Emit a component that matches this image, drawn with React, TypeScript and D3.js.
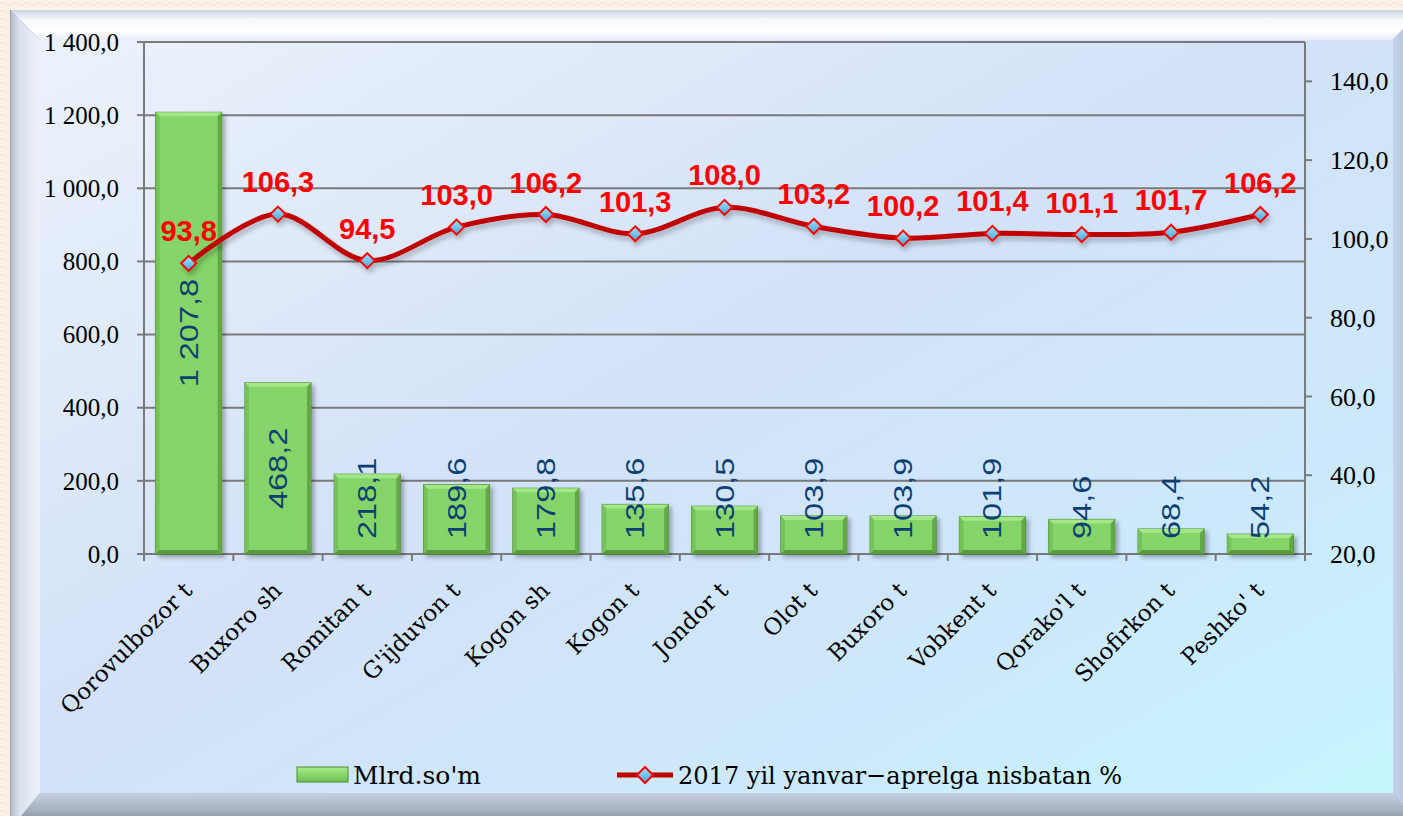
import React from "react";
import * as d3 from "d3";

const categories = [
  "Qorovulbozor t", "Buxoro sh", "Romitan t", "G'ijduvon t", "Kogon sh", "Kogon t",
  "Jondor t", "Olot t", "Buxoro t", "Vobkent t", "Qorako'l t", "Shofirkon t", "Peshko' t",
];
const barValues = [1207.8, 468.2, 218.1, 189.6, 179.8, 135.6, 130.5, 103.9, 103.9, 101.9, 94.6, 68.4, 54.2];
const lineValues = [93.8, 106.3, 94.5, 103.0, 106.2, 101.3, 108.0, 103.2, 100.2, 101.4, 101.1, 101.7, 106.2];
const leftTicks = [0, 200, 400, 600, 800, 1000, 1200, 1400];
const rightTicks = [20, 40, 60, 80, 100, 120, 140];
const barSeriesName = "Mlrd.so'm";
const lineSeriesName = "2017 yil yanvar\u2212aprelga nisbatan %";

const W = 1403;
const H = 816;
const PL = 144, PR = 1305, PT = 42, PB = 554;

const fmt = (v: number) => {
  const s = v.toFixed(1).replace(".", ",");
  const [i, dec] = s.split(",");
  const ip = i.replace(/\B(?=(\d{3})+(?!\d))/g, " ");
  return ip + "," + dec;
};

export default function App() {
  const x = d3.scaleBand<string>().domain(categories).range([PL, PR]).padding(0);
  const yL = d3.scaleLinear().domain([0, 1400]).range([PB, PT]);
  const yR = d3.scaleLinear().domain([20, 150]).range([PB, PT]);
  const bw = x.bandwidth() * 0.74;
  const cx = (c: string) => (x(c) as number) + x.bandwidth() / 2;

  const line = d3
    .line<number>()
    .x((_, i) => cx(categories[i]))
    .y((d) => yR(d))
    .curve(d3.curveCatmullRom.alpha(0.5));

  const serif = "'Liberation Serif', 'Times New Roman', serif";
  const wideSerif = "'DejaVu Serif', serif";
  const sans = "'Liberation Sans', Arial, sans-serif";
  const gridColor = "#7a7a7a";

  const fx = 10, fy = 10, fr = 1420, fb = 830; // outer frame
  const ix = 40, iy = 40, ir = 1393, ib = 793; // inner face

  return (
    <svg width={W} height={H} style={{ position: "absolute", left: 0, top: 0 }} xmlns="http://www.w3.org/2000/svg">
      <defs>
        <pattern id="wave" width="12" height="8" patternUnits="userSpaceOnUse">
          <rect width="12" height="8" fill="#fdf1e8" />
          <path d="M0 4 Q3 1 6 4 T12 4" stroke="#f4dccb" strokeWidth="1" fill="none" />
        </pattern>
        <linearGradient id="face" x1="0" y1="0" x2="1" y2="1">
          <stop offset="0" stopColor="#ecf2fb" />
          <stop offset="0.45" stopColor="#d3e2f8" />
          <stop offset="0.75" stopColor="#cde8fc" />
          <stop offset="1" stopColor="#c6f6fe" />
        </linearGradient>
        <linearGradient id="bevTop" x1="0" y1="0" x2="0" y2="1">
          <stop offset="0" stopColor="#c9d3e3" />
          <stop offset="0.3" stopColor="#f4f7fc" />
          <stop offset="0.7" stopColor="#ffffff" />
          <stop offset="1" stopColor="#e6edf8" />
        </linearGradient>
        <linearGradient id="bevLeft" x1="0" y1="0" x2="1" y2="0">
          <stop offset="0" stopColor="#aeb8c8" />
          <stop offset="0.3" stopColor="#d9e0ec" />
          <stop offset="1" stopColor="#eef2fa" />
        </linearGradient>
        <linearGradient id="bevBottom" x1="0" y1="0" x2="0" y2="1">
          <stop offset="0" stopColor="#c5d0e0" />
          <stop offset="0.5" stopColor="#a3adbd" />
          <stop offset="1" stopColor="#6d7585" />
        </linearGradient>
        <linearGradient id="bevRight" x1="0" y1="0" x2="1" y2="0">
          <stop offset="0" stopColor="#c3d3ea" />
          <stop offset="1" stopColor="#a8b8d0" />
        </linearGradient>
        <linearGradient id="barFace" x1="0" y1="0" x2="1" y2="0">
          <stop offset="0" stopColor="#86d56a" />
          <stop offset="1" stopColor="#84d468" />
        </linearGradient>
        <linearGradient id="diamond" x1="0" y1="0" x2="0" y2="1">
          <stop offset="0" stopColor="#a6e2fb" />
          <stop offset="1" stopColor="#3ea6e2" />
        </linearGradient>
        <linearGradient id="legBar" x1="0" y1="0" x2="0" y2="1">
          <stop offset="0" stopColor="#a6ee86" />
          <stop offset="1" stopColor="#6fbf52" />
        </linearGradient>
        <filter id="shadow" x="-20%" y="-20%" width="140%" height="140%">
          <feDropShadow dx="3" dy="3" stdDeviation="2" floodColor="#000" floodOpacity="0.3" />
        </filter>
        <filter id="lshadow" x="-5%" y="-20%" width="110%" height="150%">
          <feDropShadow dx="2" dy="4" stdDeviation="2.5" floodColor="#000" floodOpacity="0.25" />
        </filter>
      </defs>

      {/* page background */}
      <rect x={0} y={0} width={W} height={H} fill="url(#wave)" />

      {/* bevelled frame */}
      <rect x={fx} y={fy} width={fr - fx} height={fb - fy} fill="#8a93a3" />
      <polygon points={`${fx},${fy} ${fr},${fy} ${ir},${iy} ${ix},${iy}`} fill="url(#bevTop)" />
      <polygon points={`${fx},${fy} ${ix},${iy} ${ix},${ib} ${fx},${fb}`} fill="url(#bevLeft)" />
      <polygon points={`${ir},${iy} ${fr},${fy} ${fr},${fb} ${ir},${ib}`} fill="url(#bevRight)" />
      <polygon points={`${ix},${ib} ${ir},${ib} ${fr},${fb} ${fx},${fb}`} fill="url(#bevBottom)" />
      <rect x={ix} y={iy} width={ir - ix} height={ib - iy} fill="url(#face)" />
      <line x1={fx + 0.5} y1={fy} x2={fx + 0.5} y2={fb} stroke="#9aa3b3" strokeWidth={1} />

      {/* gridlines */}
      {leftTicks.map((t) => (
        <line key={"g" + t} x1={PL} x2={PR} y1={yL(t)} y2={yL(t)} stroke={gridColor} strokeWidth={2} />
      ))}
      {/* left axis */}
      <line x1={PL} x2={PL} y1={PT} y2={PB + 7} stroke={gridColor} strokeWidth={2} />
      {leftTicks.map((t) => (
        <g key={"lt" + t}>
          <line x1={PL - 7} x2={PL} y1={yL(t)} y2={yL(t)} stroke={gridColor} strokeWidth={2} />
          <text x={119} y={yL(t)} dy="0.35em" textAnchor="end" fontFamily={serif} fontSize={25} fill="#000">
            {fmt(t)}
          </text>
        </g>
      ))}
      {/* right axis */}
      <line x1={PR} x2={PR} y1={PT} y2={PB + 7} stroke={gridColor} strokeWidth={2} />
      {rightTicks.map((t) => (
        <g key={"rt" + t}>
          <line x1={PR} x2={PR + 7} y1={yR(t)} y2={yR(t)} stroke={gridColor} strokeWidth={2} />
          <text x={1330} y={yR(t)} dy="0.35em" textAnchor="start" fontFamily={serif} fontSize={26} fill="#000">
            {fmt(t)}
          </text>
        </g>
      ))}
      {/* category ticks */}
      {categories.map((c) => (
        <line key={"ct" + c} x1={x(c) as number} x2={x(c) as number} y1={PB} y2={PB + 7} stroke={gridColor} strokeWidth={2} />
      ))}

      {/* bars */}
      <g filter="url(#shadow)">
        {categories.map((c, i) => {
          const bx = cx(c) - bw / 2;
          const by = yL(barValues[i]);
          const bh = PB - by;
          const e = 4;
          return (
            <g key={"b" + c}>
              <rect x={bx} y={by} width={bw} height={bh} fill="url(#barFace)" stroke="#4e8a35" strokeWidth={1} />
              <polygon points={`${bx},${by} ${bx + bw},${by} ${bx + bw - e},${by + e} ${bx + e},${by + e}`} fill="#a2e886" />
              <polygon points={`${bx},${by} ${bx + e},${by + e} ${bx + e},${by + bh - e} ${bx},${by + bh}`} fill="#74c25a" />
              <polygon points={`${bx + bw},${by} ${bx + bw - e},${by + e} ${bx + bw - e},${by + bh - e} ${bx + bw},${by + bh}`} fill="#62a848" />
              <polygon points={`${bx},${by + bh} ${bx + e},${by + bh - e} ${bx + bw - e},${by + bh - e} ${bx + bw},${by + bh}`} fill="#5a9a40" />
            </g>
          );
        })}
      </g>
      {/* bar labels */}
      {categories.map((c, i) => {
        const by = yL(barValues[i]);
        const label = fmt(barValues[i]);
        const len = (label.replace(/[ ,]/g, "").length * 0.556 + (label.split(/[ ,]/).length - 1) * 0.278) * 26 * 1.25;
        const center = Math.min((by + PB) / 2, 539 - len / 2);
        return (
          <text
            key={"bl" + c}
            transform={`translate(${cx(c) + 9},${center}) rotate(-90) scale(1.25,1)`}
            textAnchor="middle"
            fontFamily={sans}
            fontSize={26}
            fill="#0d3f73"
          >
            {label}
          </text>
        );
      })}

      {/* line */}
      <g filter="url(#lshadow)">
        <path d={line(lineValues) || ""} fill="none" stroke="#c00000" strokeWidth={5} strokeLinejoin="round" />
        {lineValues.map((v, i) => {
          const px = cx(categories[i]);
          const py = yR(v);
          const s = 7.5;
          return (
            <polygon
              key={"m" + i}
              points={`${px},${py - s} ${px + s},${py} ${px},${py + s} ${px - s},${py}`}
              fill="url(#diamond)"
              stroke="#ff0000"
              strokeWidth={2}
            />
          );
        })}
      </g>
      {lineValues.map((v, i) => (
        <text
          key={"ll" + i}
          x={cx(categories[i])}
          y={yR(v) - 22}
          textAnchor="middle"
          fontFamily={sans}
          fontWeight="bold"
          fontSize={29}
          fill="#ff0000"
        >
          {fmt(v)}
        </text>
      ))}

      {/* x labels */}
      {categories.map((c) => (
        <text
          key={"xl" + c}
          transform={`translate(${cx(c) + 5},${592}) rotate(-45)`}
          textAnchor="end"
          fontFamily={wideSerif}
          fontSize={23}
          fill="#000"
        >
          {c}
        </text>
      ))}

      {/* legend */}
      <g>
        <rect x={297} y={767} width={51} height={15} fill="url(#legBar)" stroke="#4e8a35" strokeWidth={1} />
        <text x={353} y={784} fontFamily={wideSerif} fontSize={25} fill="#000">{barSeriesName}</text>
        <line x1={617} x2={673} y1={775} y2={775} stroke="#c00000" strokeWidth={5} />
        <polygon points={`645,767 653,775 645,783 637,775`} fill="url(#diamond)" stroke="#ff0000" strokeWidth={2} />
        <text x={678} y={784} fontFamily={wideSerif} fontSize={25} fill="#000" textLength={444} lengthAdjust="spacingAndGlyphs">
          {lineSeriesName}
        </text>
      </g>
    </svg>
  );
}
